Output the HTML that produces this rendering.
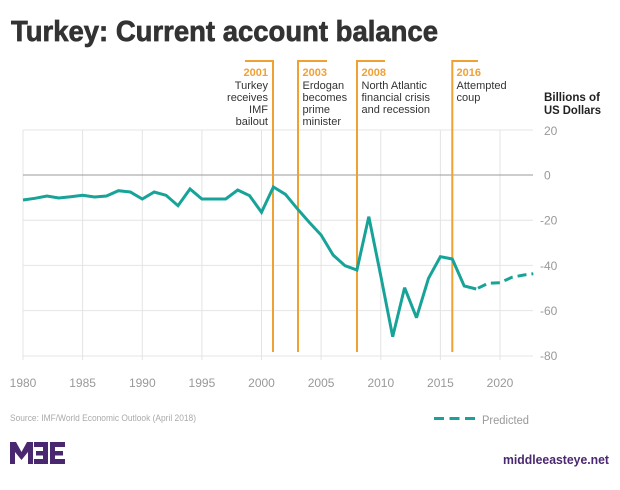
<!DOCTYPE html>
<html>
<head>
<meta charset="utf-8">
<style>
  html,body{margin:0;padding:0;background:#fff;}
  svg{display:block;}
</style>
</head>
<body>
<svg width="620" height="490" viewBox="0 0 620 490" xmlns="http://www.w3.org/2000/svg">
  <rect width="620" height="490" fill="#fff"/>
  <!-- Title -->
  <text x="11" y="41" font-family="Liberation Sans, sans-serif" font-weight="bold" font-size="29" fill="#333" stroke="#333" stroke-width="0.7" textLength="427" lengthAdjust="spacingAndGlyphs">Turkey: Current account balance</text>

  <!-- vertical gridlines -->
  <g stroke="#e4e4e4" stroke-width="1">
    <line x1="23" y1="130" x2="23" y2="360"/>
    <line x1="82.6" y1="130" x2="82.6" y2="360"/>
    <line x1="142.3" y1="130" x2="142.3" y2="360"/>
    <line x1="201.9" y1="130" x2="201.9" y2="360"/>
    <line x1="261.5" y1="130" x2="261.5" y2="360"/>
    <line x1="321.1" y1="130" x2="321.1" y2="360"/>
    <line x1="380.8" y1="130" x2="380.8" y2="360"/>
    <line x1="440.4" y1="130" x2="440.4" y2="360"/>
    <line x1="500" y1="130" x2="500" y2="360"/>
    <!-- horizontal gridlines -->
    <line x1="23" y1="130" x2="533" y2="130"/>
    <line x1="23" y1="220.2" x2="533" y2="220.2"/>
    <line x1="23" y1="265.4" x2="533" y2="265.4"/>
    <line x1="23" y1="310.6" x2="533" y2="310.6"/>
    <line x1="23" y1="356" x2="533" y2="356"/>
  </g>
  <line x1="23" y1="175" x2="533" y2="175" stroke="#9a9a9a" stroke-width="1"/>

  <!-- Y labels -->
  <g font-family="Liberation Sans, sans-serif" font-size="12" fill="#999">
    <text x="544" y="135">20</text>
    <text x="544" y="179.5">0</text>
    <text x="540" y="224.5">-20</text>
    <text x="540" y="270">-40</text>
    <text x="540" y="315">-60</text>
    <text x="540" y="360">-80</text>
  </g>
  <!-- X labels -->
  <g font-family="Liberation Sans, sans-serif" font-size="12" fill="#999" text-anchor="middle">
    <text x="23" y="387">1980</text>
    <text x="82.6" y="387">1985</text>
    <text x="142.3" y="387">1990</text>
    <text x="201.9" y="387">1995</text>
    <text x="261.5" y="387">2000</text>
    <text x="321.1" y="387">2005</text>
    <text x="380.8" y="387">2010</text>
    <text x="440.4" y="387">2015</text>
    <text x="500" y="387">2020</text>
  </g>

  <!-- Billions label -->
  <g font-family="Liberation Sans, sans-serif" font-weight="bold" font-size="12" fill="#222">
    <text x="544" y="101" textLength="56" lengthAdjust="spacingAndGlyphs">Billions of</text>
    <text x="544" y="114" textLength="57" lengthAdjust="spacingAndGlyphs">US Dollars</text>
  </g>

  <!-- Orange event lines -->
  <g stroke="#f0a134" stroke-width="2" fill="none">
    <polyline points="245,61 273,61 273,352"/>
    <polyline points="327,61 298,61 298,352"/>
    <polyline points="385,61 357,61 357,352"/>
    <polyline points="478,61 452.3,61 452.3,352"/>
  </g>

  <!-- Annotations -->
  <g font-family="Liberation Sans, sans-serif" font-size="11">
    <g text-anchor="end">
      <text x="268" y="76" font-weight="bold" fill="#f0a134">2001</text>
      <text x="268" y="89" fill="#333">Turkey</text>
      <text x="268" y="101" fill="#333">receives</text>
      <text x="268" y="113" fill="#333">IMF</text>
      <text x="268" y="125" fill="#333">bailout</text>
    </g>
    <text x="302.5" y="76" font-weight="bold" fill="#f0a134">2003</text>
    <text x="302.5" y="89" fill="#333">Erdogan</text>
    <text x="302.5" y="101" fill="#333">becomes</text>
    <text x="302.5" y="113" fill="#333">prime</text>
    <text x="302.5" y="125" fill="#333">minister</text>

    <text x="361.5" y="76" font-weight="bold" fill="#f0a134">2008</text>
    <text x="361.5" y="89" fill="#333">North Atlantic</text>
    <text x="361.5" y="101" fill="#333">financial crisis</text>
    <text x="361.5" y="113" fill="#333">and recession</text>

    <text x="456.5" y="76" font-weight="bold" fill="#f0a134">2016</text>
    <text x="456.5" y="89" fill="#333">Attempted</text>
    <text x="456.5" y="101" fill="#333">coup</text>
  </g>

  <!-- Data line -->
  <polyline fill="none" stroke="#17a398" stroke-width="3" stroke-linejoin="miter" stroke-miterlimit="3"
    points="23,200 34.9,198.3 46.9,196 58.8,198 70.7,196.7 82.6,195.3 94.6,197 106.5,196 118.4,190.7 130.3,192 142.3,199 154.2,192 166.1,195.3 178,205.7 190,189 201.9,199 213.8,199 225.7,199 237.7,190 249.6,195.7 261.5,212.3 273.4,187 285.4,194.3 297.3,208.7 309.2,222.3 321.1,235 333.1,255 345,265.7 356.9,270 368.8,216.7 380.8,276 392.7,336.7 404.6,287.7 416.5,317.7 428.5,278.3 440.4,256.7 452.3,259 464.2,286 476.2,289"/>
  <polyline fill="none" stroke="#17a398" stroke-width="3" stroke-dasharray="9,5"
    points="478,288.2 488.1,283.3 500,282.7 511.9,277.3 523.9,275 533.3,273.7"/>

  <!-- Source -->
  <text x="10" y="421" font-family="Liberation Sans, sans-serif" font-size="9" fill="#aaa" textLength="186" lengthAdjust="spacingAndGlyphs">Source: IMF/World Economic Outlook (April 2018)</text>

  <!-- Legend -->
  <line x1="434" y1="418.5" x2="475" y2="418.5" stroke="#17a398" stroke-width="3" stroke-dasharray="10,5.5"/>
  <text x="482" y="424" font-family="Liberation Sans, sans-serif" font-size="11.5" fill="#999" textLength="47" lengthAdjust="spacingAndGlyphs">Predicted</text>

  <!-- MEE logo -->
  <g fill="#4a2870">
    <polygon points="10,442 16,442 21.5,452 27,442 33,442 33,464 28,464 28,452 21.5,460 15,452 15,464 10,464"/>
    <rect x="34" y="442" width="13" height="5"/>
    <rect x="36" y="451" width="11" height="4.5"/>
    <rect x="34" y="459" width="13" height="5"/>
    <rect x="43" y="442" width="5" height="22"/>
    <rect x="50" y="442" width="5" height="22"/>
    <rect x="50" y="442" width="15" height="5"/>
    <rect x="50" y="451" width="13" height="4.5"/>
    <rect x="50" y="459" width="15" height="5"/>
  </g>
  <text x="503" y="464" font-family="Liberation Sans, sans-serif" font-weight="bold" font-size="12.5" fill="#4a2870" textLength="106" lengthAdjust="spacingAndGlyphs">middleeasteye.net</text>
</svg>
</body>
</html>
